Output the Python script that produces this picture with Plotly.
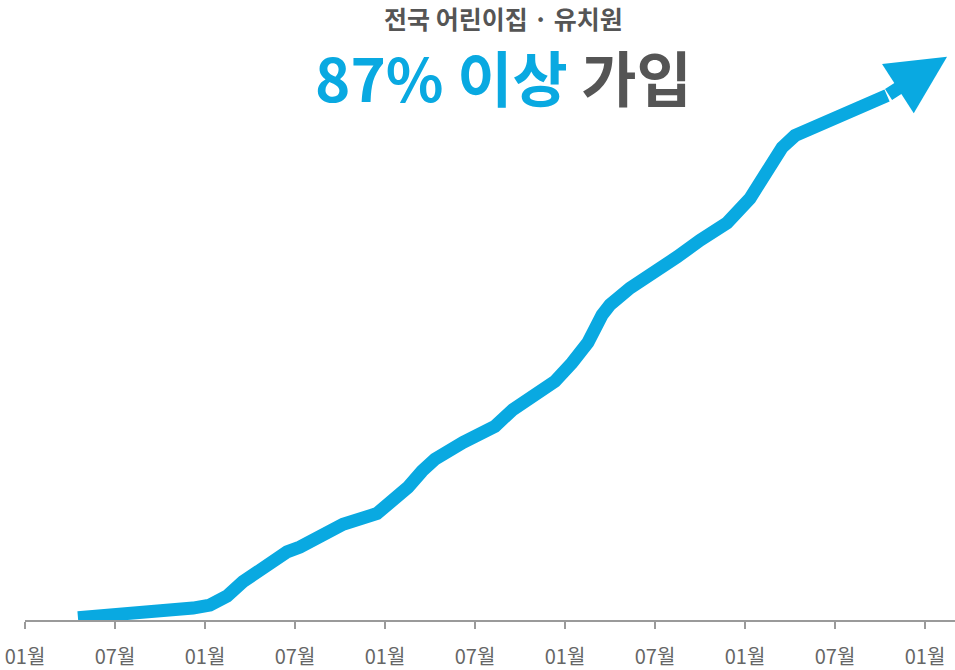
import plotly.graph_objects as go

# months since the first "01월" tick
months = [3.53, 6.33, 8.53, 11.2, 12.33, 13.47, 14.53, 15.47, 17.47, 18.33, 20.33, 21.2,
          23.47, 24.33, 25.53, 26.47, 27.33, 29.2, 31.33, 32.53, 34.33, 35.33, 36.47,
          37.53, 38.47, 39.0, 40.33, 42.33, 43.47, 45.0, 46.8, 48.33, 50.47, 51.33,
          53.67, 55.2, 57.47]
values = [0.4, 0.8, 1.3, 2.0, 2.5, 4.0, 6.4, 8.2, 11.4, 12.2, 14.9, 16.0,
          17.8, 19.4, 22.2, 24.9, 26.9, 29.7, 32.4, 35.2, 38.5, 39.9, 43.0,
          46.4, 51.0, 52.7, 55.5, 58.5, 60.7, 63.5, 66.4, 70.5, 79.0, 81.0,
          83.5, 85.5, 87.7]
arrow_tip = (61.47, 94.17)

tick_vals = [0, 6, 12, 18, 24, 30, 36, 42, 48, 54, 60]
tick_text = ["01월", "07월", "01월", "07월", "01월", "07월", "01월", "07월", "01월", "07월", "01월"]

BLUE = "#09a9e1"
GREY = "#555555"
FONT = "Noto Sans CJK KR"

fig = go.Figure()
fig.add_trace(go.Scatter(
    x=months, y=values, mode="lines",
    line=dict(color=BLUE, width=13),
    cliponaxis=False, hoverinfo="skip", showlegend=False,
))

fig.add_annotation(
    x=arrow_tip[0], y=arrow_tip[1], xref="x", yref="y",
    ax=months[-1], ay=values[-1], axref="x", ayref="y",
    text="", showarrow=True, arrowhead=2, arrowsize=0.9, arrowwidth=13,
    arrowcolor=BLUE, standoff=0, startstandoff=0,
)

fig.add_annotation(
    x=0.515, y=1.0067, xref="paper", yref="paper", xanchor="center", yanchor="middle",
    text="<b>전국 어린이집 · 유치원</b>", showarrow=False,
    font=dict(family=FONT, size=25, color=GREY),
)
fig.add_annotation(
    x=0.515, y=0.91, xref="paper", yref="paper", xanchor="center", yanchor="middle",
    text=f"<b><span style='color:{BLUE}'>87% 이상</span> 가입</b>", showarrow=False,
    font=dict(family=FONT, size=60, color=GREY),
)

fig.update_layout(
    width=955, height=670,
    margin=dict(l=25, r=0, t=22, b=48),
    paper_bgcolor="white", plot_bgcolor="white",
    xaxis=dict(
        range=[0, 62], showgrid=False, zeroline=False,
        showline=True, linecolor="#9a9a9a", linewidth=2,
        ticks="outside", ticklen=7, tickwidth=2, tickcolor="#9a9a9a",
        tickvals=tick_vals, ticktext=tick_text,
        tickfont=dict(family=FONT, size=20, color="#666666"),
        ticklabelstandoff=11, ticklabeloverflow="allow",
    ),
    yaxis=dict(range=[0, 100], visible=False, fixedrange=True),
)

# remove the browser's default 8px body margin so the figure fills the window exactly
fig.write_html(
    "out.html",
    config={"displayModeBar": False},
    post_script="document.body.style.margin='0';document.body.style.overflow='hidden';",
)
